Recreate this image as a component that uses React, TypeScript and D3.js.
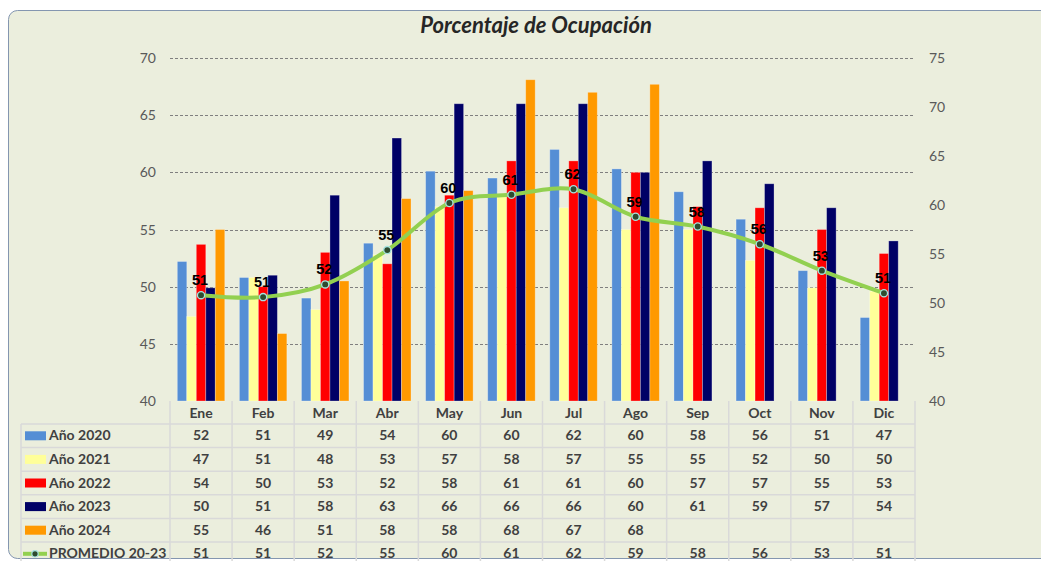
import React from "react";
import * as d3 from "d3";

const months = ["Ene", "Feb", "Mar", "Abr", "May", "Jun", "Jul", "Ago", "Sep", "Oct", "Nov", "Dic"];
const y2020 = [52.2, 50.8, 49.0, 53.8, 60.1, 59.5, 62.0, 60.3, 58.3, 55.9, 51.4, 47.3];
const y2021 = [47.4, 50.8, 48.0, 52.8, 57.0, 57.9, 56.9, 55.0, 55.0, 52.3, 49.9, 49.6];
const y2022 = [53.7, 50.0, 53.0, 52.0, 58.0, 61.0, 61.0, 60.0, 57.0, 56.9, 55.0, 52.9];
const y2023 = [49.9, 51.0, 58.0, 63.0, 66.0, 66.0, 66.0, 60.0, 61.0, 59.0, 56.9, 54.0];
const y2024: (number | null)[] = [55.0, 45.9, 50.5, 57.7, 58.4, 68.1, 67.0, 67.7, null, null, null, null];
const promedio = [50.8, 50.6, 51.9, 55.4, 60.2, 61.05, 61.6, 58.8, 57.8, 56.0, 53.3, 51.0];
const seriesNames = ["Año 2020", "Año 2021", "Año 2022", "Año 2023", "Año 2024"];
const seriesColors = ["#558ED5", "#FFFF99", "#FF0000", "#000066", "#FF9900"];
const lineName = "PROMEDIO 20-23";
const leftTicks = [40, 45, 50, 55, 60, 65, 70];
const rightTicks = [40, 45, 50, 55, 60, 65, 70, 75];
const title = "Porcentaje de Ocupación";

const seriesData = [y2020, y2021, y2022, y2023, y2024];

const W = 1041;
const H = 561;
const plotL = 170;
const plotR = 915;
const plotT = 58;
const plotB = 401;
const rowTop = 424;
const rowH = 23.6;
const legendL = 21;

const FONT = "Lato, 'Open Sans', sans-serif";
const TXT = "#404040";

export default function App() {
  const x = d3.scaleBand<string>().domain(months).range([plotL, plotR]).padding(0);
  const xi = d3
    .scaleBand<string>()
    .domain(seriesNames)
    .range([0, x.bandwidth()])
    .paddingInner(0)
    .paddingOuter(0.77);
  const yL = d3.scaleLinear().domain([40, 70]).range([plotB, plotT]);
  const yR = d3.scaleLinear().domain([40, 75]).range([plotB, plotT]);

  const line = d3
    .line<number>()
    .x((_, i) => (x(months[i]) as number) + x.bandwidth() / 2)
    .y((d) => yR(d))
    .curve(d3.curveCatmullRom.alpha(0));

  const rows = [...seriesData, promedio];
  const rowNames = [...seriesNames, lineName];
  const tableBottom = rowTop + rowH * rows.length;
  const gridColor = "#D9D9D9";

  return (
    <svg
      width={W}
      height={H}
      style={{ position: "absolute", left: 0, top: 0, background: "#fff" }}
      fontFamily={FONT}
    >
      <rect x={8.5} y={10.5} width={1060} height={548} rx={9} fill="#EBEEDD" stroke="#8496B0" strokeWidth={1} />
      <text
        x={536}
        y={33}
        textAnchor="middle"
        fontSize={22}
        fontWeight="bold"
        fontStyle="italic"
        fill="#262626"
      >
        {title}
      </text>

      {/* gridlines */}
      {leftTicks.slice(1).map((t) => (
        <line
          key={"g" + t}
          x1={plotL}
          x2={plotR}
          y1={Math.round(yL(t)) + 0.5}
          y2={Math.round(yL(t)) + 0.5}
          stroke="#7F7F7F"
          strokeWidth={1}
          strokeDasharray="3,2"
        />
      ))}

      {/* left axis labels */}
      {leftTicks.map((t) => (
        <text key={"l" + t} x={156} y={yL(t) + 5} textAnchor="end" fontSize={14} fill="#595959">
          {t}
        </text>
      ))}
      {/* right axis labels */}
      {rightTicks.map((t) => (
        <text key={"r" + t} x={929} y={yR(t) + 5} textAnchor="start" fontSize={14} fill="#595959">
          {t}
        </text>
      ))}

      {/* bars */}
      {seriesData.map((s, si) =>
        s.map((v, mi) =>
          v == null ? null : (
            <rect
              key={`b${si}-${mi}`}
              x={(x(months[mi]) as number) + (xi(seriesNames[si]) as number)}
              y={yL(v)}
              width={xi.bandwidth()}
              height={plotB - yL(v)}
              fill={seriesColors[si]}
              stroke="#ffffff"
              strokeOpacity={0.35}
              strokeWidth={0.8}
            />
          )
        )
      )}

      {/* average line */}
      <path d={line(promedio) || ""} fill="none" stroke="#92D050" strokeWidth={4} strokeLinecap="round" />
      {promedio.map((v, i) => {
        const cx = (x(months[i]) as number) + x.bandwidth() / 2;
        const cy = yR(v);
        return (
          <g key={"p" + i}>
            <circle cx={cx} cy={cy} r={3.6} fill="#2E4B2E" stroke="#A6E3E0" strokeWidth={1.3} />
            <text
              x={cx - 1}
              y={cy - 10}
              textAnchor="middle"
              fontSize={14.5}
              fontWeight="bold"
              fontFamily="'Liberation Sans', Arial, sans-serif"
              fill="#000"
            >
              {Math.round(v)}
            </text>
          </g>
        );
      })}

      {/* data table */}
      <g stroke={gridColor} strokeWidth={1.5}>
        {d3.range(rows.length + 1).map((r) => (
          <line
            key={"h" + r}
            x1={legendL}
            x2={plotR}
            y1={rowTop + r * rowH}
            y2={rowTop + r * rowH}
          />
        ))}
        {d3.range(months.length + 1).map((c) => (
          <line
            key={"v" + c}
            x1={plotL + c * x.step()}
            x2={plotL + c * x.step()}
            y1={plotB}
            y2={tableBottom + 5}
          />
        ))}
        <line x1={legendL} x2={legendL} y1={rowTop} y2={tableBottom + 5} />
      </g>

      {months.map((m) => (
        <text
          key={"m" + m}
          x={(x(m) as number) + x.bandwidth() / 2}
          y={418}
          textAnchor="middle"
          fontSize={14}
          fontWeight="bold"
          fill={TXT}
        >
          {m}
        </text>
      ))}

      {rows.map((row, r) => {
        const cy = rowTop + r * rowH + rowH / 2;
        return (
          <g key={"row" + r}>
            {r < seriesNames.length ? (
              <rect x={25} y={cy - 4.5} width={21} height={9} fill={seriesColors[r]} />
            ) : (
              <g>
                <line x1={23} x2={47} y1={cy} y2={cy} stroke="#92D050" strokeWidth={4} />
                <circle cx={35} cy={cy} r={3.2} fill="#2E4B2E" stroke="#A6E3E0" strokeWidth={1.2} />
              </g>
            )}
            <text x={49} y={cy + 4.5} fontSize={14} fontWeight="bold" fill={TXT}>
              {rowNames[r]}
            </text>
            {row.map((v, i) =>
              v == null ? null : (
                <text
                  key={"c" + i}
                  x={(x(months[i]) as number) + x.bandwidth() / 2}
                  y={cy + 4.5}
                  textAnchor="middle"
                  fontSize={14}
                  fontWeight="bold"
                  fill={TXT}
                >
                  {Math.round(v)}
                </text>
              )
            )}
          </g>
        );
      })}
    </svg>
  );
}
